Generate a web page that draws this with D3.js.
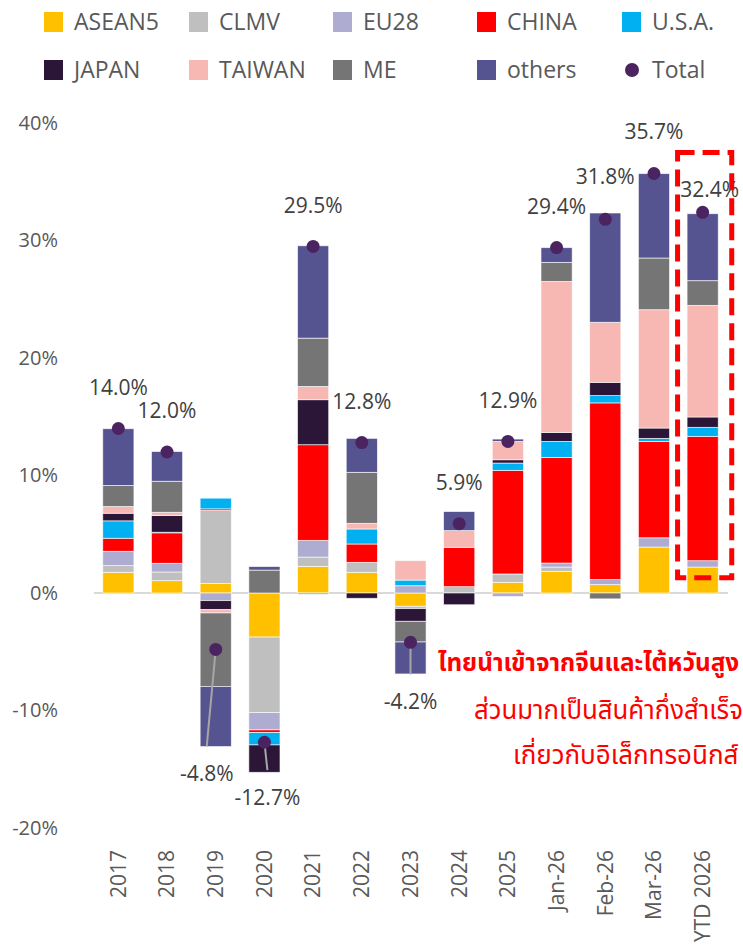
<!DOCTYPE html>
<html>
<head>
<meta charset="utf-8">
<script src="https://cdn.jsdelivr.net/npm/d3@7"></script>
<style>
  html, body { margin: 0; padding: 0; background: #ffffff; overflow: hidden; }
  svg { display: block; }
</style>
</head>
<body>
<div id="chart"></div>
<script>
// ---------------- DATA ----------------
const categories = ["2017","2018","2019","2020","2021","2022","2023","2024","2025","Jan-26","Feb-26","Mar-26","YTD 2026"];
const seriesNames = ["ASEAN5","CLMV","EU28","CHINA","U.S.A.","JAPAN","TAIWAN","ME","others"];
const asean5 = [1.76, 1.05, 0.80, -3.75, 2.27, 1.76, -1.13, 0.00, 0.91, 1.84, 0.71, 3.91, 2.21];
const clmv   = [0.57, 0.74, 6.22, -6.42, 0.79, 0.85, -0.20, 0.54, 0.71, 0.37, 0.00, 0.00, 0.00];
const eu28   = [1.22, 0.74, -0.65, -1.48, 1.42, 0.00, 0.62, 0.00, -0.30, 0.34, 0.43, 0.79, 0.54];
const china  = [1.11, 2.59, 0.14, -0.23, 8.14, 1.56, 0.00, 3.35, 8.82, 8.99, 15.04, 8.20, 10.58];
const usa    = [1.48, 0.05, 0.91, -1.05, -0.10, 1.28, 0.48, 0.00, 0.62, 1.36, 0.62, 0.26, 0.77];
const japan  = [0.65, 1.42, -0.77, -2.33, 3.83, -0.45, -1.08, -1.00, 0.28, 0.77, 1.13, 0.88, 0.88];
const taiwan = [0.57, 0.28, -0.28, 0.00, 1.13, 0.48, 1.65, 1.42, 1.56, 12.85, 5.11, 10.07, 9.50];
const me     = [1.79, 2.64, -6.25, 1.95, 4.11, 4.34, -1.76, 0.00, 0.00, 1.62, -0.50, 4.40, 2.10];
const others = [4.83, 2.53, -5.12, 0.30, 7.86, 2.89, -2.72, 1.62, 0.20, 1.25, 9.30, 7.18, 5.70];
const total  = [14.0, 12.0, -4.8, -12.7, 29.5, 12.8, -4.2, 5.9, 12.9, 29.4, 31.8, 35.7, 32.4];
const yTicks = [40, 30, 20, 10, 0, -10, -20];
const highlightRange = [1.3, 37.5]; // value range covered by the dashed highlight box
const noteLines = ["ไทยนำเข้าจากจีนและไต้หวันสูง", "ส่วนมากเป็นสินค้ากึ่งสำเร็จ", "เกี่ยวกับอิเล็กทรอนิกส์"];

// ---------------- STYLE / LAYOUT ----------------
const colors = ["#FFC000","#BFBFBF","#AEADD1","#FF0000","#00B0F0","#2B1638","#F7B7B2","#757575","#555490"];
const dotColor = "#4A2360";
const W = 743, H = 952;
const FONT = "'Open Sans', 'Noto Sans', sans-serif";
const THAI = "'Noto Sans Thai', 'Loma', 'Garuda', 'Noto Sans', sans-serif";

// label offsets (px) relative to the total dot
const labelOffset = {
  "2019": [-9, 124], "2020": [3, 55], "2023": [0, 59],
  "Feb-26": [0, -43], "Mar-26": [0, -42], "YTD 2026": [7, -23]
};

const svg = d3.select("#chart").append("svg").attr("width", W).attr("height", H);

const x = d3.scaleBand().domain(categories).range([94, 727]).paddingInner(0.36).paddingOuter(0.18);
const y = d3.scaleLinear().domain([-20, 40]).range([828, 123]);
const pct = v => v.toFixed(1) + "%";

// stacked data
const seriesArrays = [asean5, clmv, eu28, china, usa, japan, taiwan, me, others];
const table = categories.map((c, i) => {
  const row = { cat: c };
  seriesNames.forEach((s, k) => row[s] = seriesArrays[k][i]);
  return row;
});
const stacked = d3.stack().keys(seriesNames).offset(d3.stackOffsetDiverging)(table);

// y axis labels
const yAxis = d3.axisLeft(y).tickValues(yTicks).tickFormat(d => String(d) + "%").tickSize(0).tickPadding(0);
const gy = svg.append("g").attr("transform", "translate(58,0)").call(yAxis);
gy.select(".domain").remove();
gy.selectAll("text").attr("font-family", FONT).attr("font-size", 20).attr("fill", "#595959");

// zero line
svg.append("line").attr("x1", 94).attr("x2", 728).attr("y1", y(0)).attr("y2", y(0))
  .attr("stroke", "#D9D9D9").attr("stroke-width", 2);

// bars
svg.append("g").selectAll("g").data(stacked).join("g")
  .attr("fill", (d, i) => colors[i])
  .selectAll("rect").data(d => d).join("rect")
  .attr("x", d => x(d.data.cat))
  .attr("width", x.bandwidth())
  .attr("y", d => y(Math.max(d[0], d[1])))
  .attr("height", d => Math.abs(y(d[0]) - y(d[1])))
  .attr("stroke", "#ffffff").attr("stroke-width", 0.8).attr("stroke-opacity", 0.75);

// x axis labels
const xAxis = d3.axisBottom(x).tickSize(0).tickPadding(0);
const gx = svg.append("g").attr("transform", "translate(0,850)").call(xAxis);
gx.select(".domain").remove();
gx.selectAll("text")
  .attr("font-family", FONT).attr("font-size", 21).attr("fill", "#595959")
  .attr("transform", "rotate(-90)")
  .attr("text-anchor", "end").attr("x", 0).attr("y", 0).attr("dy", "0.35em");

// total dots, leader lines and labels
const pts = categories.map((c, i) => {
  const cx = x(c) + x.bandwidth() / 2, cy = y(total[i]);
  const off = labelOffset[c] || [0, -41];
  return { c, v: total[i], cx, cy, lx: cx + off[0], ly: cy + off[1] };
});
svg.append("g").selectAll("line").data(pts.filter(p => p.v < 0)).join("line")
  .attr("x1", p => p.cx).attr("y1", p => p.cy)
  .attr("x2", p => p.lx).attr("y2", p => p.ly - 27)
  .attr("stroke", "#A6A6A6").attr("stroke-width", 2);
svg.append("g").selectAll("circle").data(pts).join("circle")
  .attr("cx", p => p.cx).attr("cy", p => p.cy).attr("r", 6.5).attr("fill", dotColor);
svg.append("g").selectAll("text").data(pts).join("text")
  .attr("x", p => p.lx).attr("y", p => p.ly).attr("dy", "0.35em")
  .attr("text-anchor", "middle").attr("font-family", FONT).attr("font-size", 21)
  .attr("fill", "#404040").text(p => pct(p.v));

// highlight box
const hx = x("YTD 2026");
svg.append("rect")
  .attr("x", hx - 9.5).attr("width", x.bandwidth() + 23)
  .attr("y", y(highlightRange[1])).attr("height", y(highlightRange[0]) - y(highlightRange[1]))
  .attr("fill", "none").attr("stroke", "#FF0000").attr("stroke-width", 5)
  .attr("stroke-dasharray", "17,8");

// annotation
svg.append("text").attr("x", 438).attr("y", 671).attr("font-family", THAI).attr("font-size", 24.3)
  .attr("font-weight", "bold").attr("fill", "#FF0000").text(noteLines[0]);
svg.append("text").attr("x", 474).attr("y", 719).attr("font-family", THAI).attr("font-size", 25.8)
  .attr("fill", "#FF0000").text(noteLines[1]);
svg.append("text").attr("x", 513).attr("y", 764).attr("font-family", THAI).attr("font-size", 26)
  .attr("fill", "#FF0000").text(noteLines[2]);

// legend
const legendItems = seriesNames.map((s, i) => ({ name: s, color: colors[i], type: "rect" }))
  .concat([{ name: "Total", color: dotColor, type: "dot" }]);
const colX = [44, 189, 333, 477, 622];
const rowY = [22, 70];
const lg = svg.append("g").selectAll("g").data(legendItems).join("g")
  .attr("transform", (d, i) => `translate(${colX[i % 5]},${rowY[Math.floor(i / 5)]})`);
lg.filter(d => d.type === "rect").append("rect")
  .attr("x", 0).attr("y", -10).attr("width", 19).attr("height", 20).attr("fill", d => d.color);
lg.filter(d => d.type === "dot").append("circle")
  .attr("cx", 10).attr("cy", 0).attr("r", 7).attr("fill", d => d.color);
lg.append("text").attr("x", 30).attr("y", 0).attr("dy", "0.35em")
  .attr("font-family", FONT).attr("font-size", 23).attr("fill", "#595959").text(d => d.name);
</script>
</body>
</html>
